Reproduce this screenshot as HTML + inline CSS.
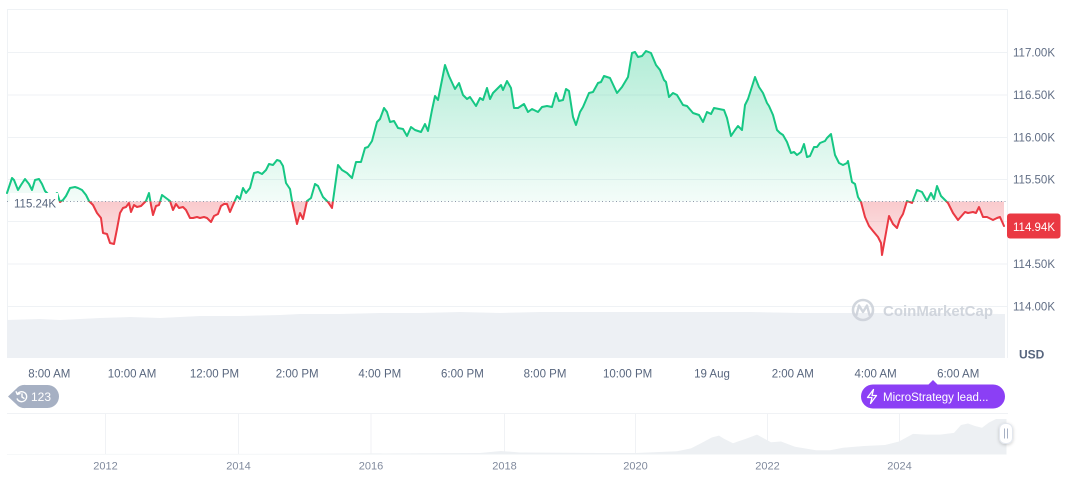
<!DOCTYPE html>
<html>
<head>
<meta charset="utf-8">
<style>
html,body{margin:0;padding:0;background:#fff;}
body{width:1072px;height:477px;overflow:hidden;font-family:"Liberation Sans",sans-serif;}
svg{display:block;}
</style>
</head>
<body>
<svg width="1072" height="477" viewBox="0 0 1072 477" xmlns="http://www.w3.org/2000/svg" xmlns:xlink="http://www.w3.org/1999/xlink" font-family="Liberation Sans, sans-serif">
<defs>
  <linearGradient id="gGreen" gradientUnits="userSpaceOnUse" x1="0" y1="50" x2="0" y2="201.5">
    <stop offset="0" stop-color="#16c784" stop-opacity="0.33"/>
    <stop offset="1" stop-color="#16c784" stop-opacity="0.05"/>
  </linearGradient>
  <linearGradient id="gRed" gradientUnits="userSpaceOnUse" x1="0" y1="201.5" x2="0" y2="256">
    <stop offset="0" stop-color="#ea3943" stop-opacity="0.27"/>
    <stop offset="1" stop-color="#ea3943" stop-opacity="0.10"/>
  </linearGradient>
  <clipPath id="cAbove"><rect x="0" y="0" width="1072" height="201.5"/></clipPath>
  <clipPath id="cBelow"><rect x="0" y="201.5" width="1072" height="200"/></clipPath>
  <filter id="sh" x="-50%" y="-50%" width="200%" height="200%">
    <feDropShadow dx="0" dy="1" stdDeviation="1.5" flood-color="#000" flood-opacity="0.2"/>
  </filter>
  <path id="area" d="M7,201.5 L7,193 L12,178 L14,180 L18,190 L21,185 L25,179 L29,184 L32,190 L35,180 L39,179 L42,184 L45,191 L50,196 L55,195 L57,193 L60,202 L63,200 L66,196 L70,188 L75,187 L78,188 L82,190 L86,195 L89,201 L93,205 L97,213 L101,218 L103,233 L107,234 L110,243 L114,244 L117,229 L120,213 L123,208 L126,207 L129,203 L131,212 L134,205 L137,207 L141,206 L144,203 L146,201 L149,193 L151,205 L153,215 L156,206 L159,205 L162,195 L166,198 L170,201 L173,210 L176,204 L179,208 L183,207 L186,210 L190,218 L193,218 L197,217 L200,218 L204,217 L207,218 L211,222 L214,216 L218,214 L221,206 L224,204 L227,204 L230,212 L233,205 L237,196 L240,199 L243,188 L246,193 L250,188 L254,173 L258,172 L262,174 L266,170 L269,164 L273,165 L277,160 L280,161 L283,166 L286,183 L290,189 L292,201 L297,224 L300,213 L303,219 L307,201 L311,198 L315,184 L318,186 L323,197 L328,202 L332,208 L338,165 L342,170 L347,173 L352,178 L356,162 L361,162 L365,148 L368,147 L372,141 L377,122 L380,119 L384,108 L387,112 L390,122 L394,121 L398,128 L403,129 L407,136 L411,127 L415,130 L421,132 L425,124 L428,131 L432,110 L435,96 L438,100 L445,65 L449,76 L455,89 L459,83 L463,95 L467,99 L470,97 L476,106 L480,98 L483,100 L487,88 L490,99 L493,93 L497,89 L501,85 L503,90 L507,81 L511,88 L514,108 L518,108 L524,104 L528,112 L532,109 L538,112 L542,107 L547,106 L552,107 L556,93 L559,101 L563,100 L566,89 L569,91 L573,117 L576,125 L580,112 L583,107 L589,93 L593,92 L598,83 L601,82 L604,76 L610,78 L617,93 L622,87 L628,77 L632,53 L635,52 L638,57 L642,56 L646,51 L651,53 L656,65 L660,70 L664,80 L666,82 L669,97 L673,93 L677,95 L683,105 L687,106 L693,113 L699,115 L703,122 L707,112 L711,114 L714,108 L719,109 L724,110 L727,118 L731,136 L735,130 L738,126 L742,130 L745,105 L748,99 L755,77 L759,87 L763,93 L767,103 L769,106 L773,115 L777,130 L780,133 L783,135 L787,142 L791,153 L794,152 L797,155 L801,152 L804,144 L807,157 L810,156 L814,147 L817,147 L820,143 L825,141 L827,138 L831,134 L835,155 L839,163 L843,165 L847,163 L848,161 L852,182 L855,184 L858,197 L861,202 L865,217 L869,226 L873,231 L878,237 L881,243 L882,255 L889,216 L893,224 L897,228 L900,219 L903,214 L907,201 L912,203 L917,190 L922,192 L927,201 L931,193 L934,199 L937,186 L941,196 L945,200 L948,203 L953,213 L958,220 L965,212 L968,213 L973,212 L976,213 L979,207 L983,217 L987,217 L993,220 L997,218 L1000,217 L1004,226 L1004,201.5 Z"/>
  <polyline id="ln" fill="none" stroke-width="2" stroke-linejoin="round" stroke-linecap="round" points="7,193 12,178 14,180 18,190 21,185 25,179 29,184 32,190 35,180 39,179 42,184 45,191 50,196 55,195 57,193 60,202 63,200 66,196 70,188 75,187 78,188 82,190 86,195 89,201 93,205 97,213 101,218 103,233 107,234 110,243 114,244 117,229 120,213 123,208 126,207 129,203 131,212 134,205 137,207 141,206 144,203 146,201 149,193 151,205 153,215 156,206 159,205 162,195 166,198 170,201 173,210 176,204 179,208 183,207 186,210 190,218 193,218 197,217 200,218 204,217 207,218 211,222 214,216 218,214 221,206 224,204 227,204 230,212 233,205 237,196 240,199 243,188 246,193 250,188 254,173 258,172 262,174 266,170 269,164 273,165 277,160 280,161 283,166 286,183 290,189 292,201 297,224 300,213 303,219 307,201 311,198 315,184 318,186 323,197 328,202 332,208 338,165 342,170 347,173 352,178 356,162 361,162 365,148 368,147 372,141 377,122 380,119 384,108 387,112 390,122 394,121 398,128 403,129 407,136 411,127 415,130 421,132 425,124 428,131 432,110 435,96 438,100 445,65 449,76 455,89 459,83 463,95 467,99 470,97 476,106 480,98 483,100 487,88 490,99 493,93 497,89 501,85 503,90 507,81 511,88 514,108 518,108 524,104 528,112 532,109 538,112 542,107 547,106 552,107 556,93 559,101 563,100 566,89 569,91 573,117 576,125 580,112 583,107 589,93 593,92 598,83 601,82 604,76 610,78 617,93 622,87 628,77 632,53 635,52 638,57 642,56 646,51 651,53 656,65 660,70 664,80 666,82 669,97 673,93 677,95 683,105 687,106 693,113 699,115 703,122 707,112 711,114 714,108 719,109 724,110 727,118 731,136 735,130 738,126 742,130 745,105 748,99 755,77 759,87 763,93 767,103 769,106 773,115 777,130 780,133 783,135 787,142 791,153 794,152 797,155 801,152 804,144 807,157 810,156 814,147 817,147 820,143 825,141 827,138 831,134 835,155 839,163 843,165 847,163 848,161 852,182 855,184 858,197 861,202 865,217 869,226 873,231 878,237 881,243 882,255 889,216 893,224 897,228 900,219 903,214 907,201 912,203 917,190 922,192 927,201 931,193 934,199 937,186 941,196 945,200 948,203 953,213 958,220 965,212 968,213 973,212 976,213 979,207 983,217 987,217 993,220 997,218 1000,217 1004,226"/>
</defs>

<!-- grid -->
<g stroke="#eff2f5" stroke-width="1" fill="none">
  <line x1="7" y1="9.5" x2="1008" y2="9.5"/>
  <line x1="7" y1="52.5" x2="1008" y2="52.5"/>
  <line x1="7" y1="95" x2="1008" y2="95"/>
  <line x1="7" y1="137.5" x2="1008" y2="137.5"/>
  <line x1="7" y1="179.5" x2="1008" y2="179.5"/>
  <line x1="7" y1="221.5" x2="1008" y2="221.5"/>
  <line x1="7" y1="264" x2="1008" y2="264"/>
  <line x1="7" y1="306.5" x2="1008" y2="306.5"/>
  <line x1="7.5" y1="9" x2="7.5" y2="358"/>
  <line x1="1007.5" y1="9" x2="1007.5" y2="358"/>
</g>

<!-- volume -->
<polygon fill="#edf0f4" points="7,358 7,320 40,319 60,320 100,318 130,317 160,318 200,316 240,316 280,315 300,314 340,314 380,313 420,313 460,312 500,313 540,312 600,312 650,312 700,312 750,312 800,313 850,313 900,313 950,313 1000,314 1005,314 1005,358"/>

<!-- watermark -->
<g opacity="0.9">
  <circle cx="863" cy="310" r="10" fill="none" stroke="#cdd2da" stroke-width="2.6"/>
  <path d="M856.5,315 L859,305.5 L863,312 L867,305.5 L869.5,315" fill="none" stroke="#cdd2da" stroke-width="2.4" stroke-linejoin="round" stroke-linecap="round"/>
  <text x="883" y="316" font-size="15" font-weight="bold" fill="#cdd2da">CoinMarketCap</text>
</g>

<!-- area fills -->
<use href="#area" xlink:href="#area" fill="url(#gGreen)" clip-path="url(#cAbove)"/>
<use href="#area" xlink:href="#area" fill="url(#gRed)" clip-path="url(#cBelow)"/>

<!-- baseline -->
<line x1="7" y1="201.5" x2="1008" y2="201.5" stroke="#8f99ab" stroke-width="1" stroke-dasharray="1 2.5"/>

<!-- line -->
<use href="#ln" xlink:href="#ln" stroke="#16c784" clip-path="url(#cAbove)"/>
<use href="#ln" xlink:href="#ln" stroke="#ea3943" clip-path="url(#cBelow)"/>

<!-- baseline label -->
<rect x="10" y="193" width="48" height="20" fill="#fff"/>
<text x="14" y="207.3" font-size="11.5" fill="#58667e">115.24K</text>

<!-- y axis labels -->
<g font-size="11.5" fill="#616e85">
  <text x="1013" y="56.6">117.00K</text>
  <text x="1013" y="99.1">116.50K</text>
  <text x="1013" y="141.6">116.00K</text>
  <text x="1013" y="183.6">115.50K</text>
  <text x="1013" y="268.2">114.50K</text>
  <text x="1013" y="310.7">114.00K</text>
</g>
<rect x="1007" y="213.5" width="53.5" height="25" rx="3" fill="#ea3943"/>
<text x="1013" y="230.8" font-size="11.5" fill="#fff">114.94K</text>
<text x="1019" y="358.5" font-size="12" font-weight="bold" fill="#58667e">USD</text>

<!-- x axis labels -->
<g font-size="11.5" fill="#58667e" text-anchor="middle">
  <text x="49.3" y="377.5">8:00 AM</text>
  <text x="132" y="377.5">10:00 AM</text>
  <text x="214.5" y="377.5">12:00 PM</text>
  <text x="297.2" y="377.5">2:00 PM</text>
  <text x="379.8" y="377.5">4:00 PM</text>
  <text x="462.4" y="377.5">6:00 PM</text>
  <text x="545" y="377.5">8:00 PM</text>
  <text x="627.6" y="377.5">10:00 PM</text>
  <text x="712" y="377.5">19 Aug</text>
  <text x="792.8" y="377.5">2:00 AM</text>
  <text x="875.6" y="377.5">4:00 AM</text>
  <text x="958.2" y="377.5">6:00 AM</text>
</g>

<!-- 123 badge -->
<path d="M8,396.5 L16,389 A11.5,11.5 0 0 1 26,385 L47.5,385 A11.5,11.5 0 0 1 47.5,408 L26,408 A11.5,11.5 0 0 1 16,404 Z" fill="#a6b0c3"/>
<g fill="none" stroke="#fff" stroke-width="1.4" stroke-linecap="round" stroke-linejoin="round">
  <path d="M17.3,394.2 A5,5 0 1 1 17.2,399"/>
  <path d="M16.2,391.8 L17.3,394.4 L19.9,393.6"/>
  <path d="M22,394 L22,397 L24,398.3"/>
</g>
<text x="31" y="401" font-size="12" fill="#fff">123</text>

<!-- MicroStrategy badge -->
<path d="M928,385 L933,380 L938,385 Z" fill="#8b3ff5"/>
<rect x="861" y="384.5" width="144" height="24" rx="12" fill="#8b3ff5"/>
<path d="M873.5,389.5 L867.5,397.5 L872,397.5 L870.5,403.5 L876.5,395.5 L872,395.5 Z" fill="none" stroke="#fff" stroke-width="1.3" stroke-linejoin="round"/>
<text x="883" y="400.8" font-size="11.5" fill="#fff">MicroStrategy lead...</text>

<!-- navigator -->
<g stroke="#f0f2f5" stroke-width="1">
  <line x1="7" y1="413.5" x2="1008" y2="413.5"/>
  <line x1="105.5" y1="413.5" x2="105.5" y2="454"/>
  <line x1="238.5" y1="413.5" x2="238.5" y2="454"/>
  <line x1="371" y1="413.5" x2="371" y2="454"/>
  <line x1="504.5" y1="413.5" x2="504.5" y2="454"/>
  <line x1="635.5" y1="413.5" x2="635.5" y2="454"/>
  <line x1="767.5" y1="413.5" x2="767.5" y2="454"/>
  <line x1="899.5" y1="413.5" x2="899.5" y2="454"/>
</g>
<polygon fill="#edf0f3" points="7,454.5 7,454 300,453.8 480,453 501,451 520,452.5 600,453 636,453 677,451.2 691,448.4 701,443.3 712,437.4 719,435.6 724,438.8 733,443.3 740,440.8 746,438.8 757,434.6 762,437.4 771,442.2 781,441.5 795,446.7 816,450.2 830,450.2 843,447.8 864,446 885,445 899,441.5 913,433.9 926,434.6 940,434.6 954,432.9 961,425 968,423.5 975,426 982,427.7 989,422.5 996,419 1006.5,419 1006.5,454.5"/>
<g font-size="11" fill="#808a9d" text-anchor="middle">
  <text x="105.5" y="469.5">2012</text>
  <text x="238.5" y="469.5">2014</text>
  <text x="371" y="469.5">2016</text>
  <text x="504.5" y="469.5">2018</text>
  <text x="635.5" y="469.5">2020</text>
  <text x="767.5" y="469.5">2022</text>
  <text x="899.5" y="469.5">2024</text>
</g>
<rect x="999.5" y="423.5" width="13" height="20" rx="5.5" fill="#fff" stroke="#e3e7ee" stroke-width="1" filter="url(#sh)"/>
<line x1="1004.5" y1="428.5" x2="1004.5" y2="438.5" stroke="#a6b0c3" stroke-width="1"/>
<line x1="1007.5" y1="428.5" x2="1007.5" y2="438.5" stroke="#a6b0c3" stroke-width="1"/>
</svg>
</body>
</html>
